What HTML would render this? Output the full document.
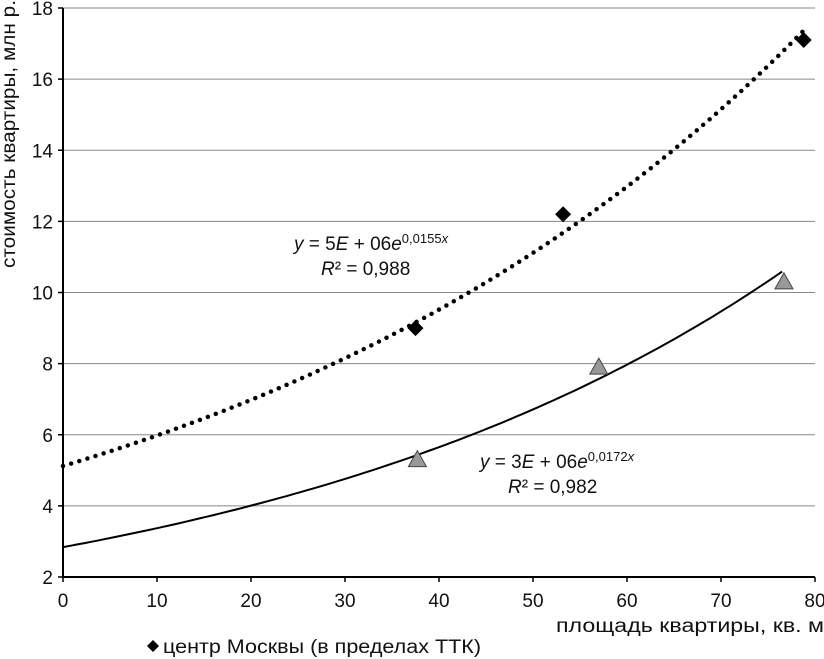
<!DOCTYPE html>
<html><head><meta charset="utf-8">
<style>
html,body{margin:0;padding:0;background:#fff;}
svg{display:block;font-family:"Liberation Sans","DejaVu Sans",sans-serif;}
.t{font-size:19px;fill:#111;}
</style></head>
<body>
<svg id="chart" width="824" height="659" viewBox="0 0 824 659" xmlns="http://www.w3.org/2000/svg" style="position:absolute;left:0;top:0"></svg>
<script>
const xTicks=[0,10,20,30,40,50,60,70,80];
const yTicks=[2,4,6,8,10,12,14,16,18];
const centerX=[37.5,53.2,78.8];
const centerY=[9.0,12.2,17.1];
const otherX=[37.7,57.0,76.7];
const otherY=[5.3,7.9,10.3];
const trendCenterA=[5.12,0.0155,0,79];
const trendOtherA=[2.84,0.0172,0,76.5];

const NS="http://www.w3.org/2000/svg";
const svg=document.getElementById('chart');
const X0=63,X1=815,Y0=577,Y1=8;
function sx(v){return X0+(v-0)/(80-0)*(X1-X0);}
function sy(v){return Y0-(v-2)/(18-2)*(Y0-Y1);}
function mk(t,a,p){const e=document.createElementNS(NS,t);for(const k in a)e.setAttribute(k,a[k]);(p||svg).appendChild(e);return e;}

const grid=mk('g',{});


yTicks.forEach(v=>{
  if(v>2){const l=mk('line',{x1:X0,x2:X1,y1:sy(v),y2:sy(v),stroke:'#888','stroke-width':1},grid);
  
  }
  const t=mk('text',{x:X0-10,y:sy(v)+7,'text-anchor':'end','class':'t'});
  t.textContent=v;
  
  
  mk('line',{x1:X0-5,x2:X0,y1:sy(v),y2:sy(v),stroke:'#000','stroke-width':1.5});
});
xTicks.forEach(v=>{
  const t=mk('text',{x:sx(v),y:Y0+30,'text-anchor':'middle','class':'t'});
  t.textContent=v;
  
  
  mk('line',{x1:sx(v),x2:sx(v),y1:Y0,y2:Y0+5,stroke:'#000','stroke-width':1.5});
});
const ax=mk('line',{x1:X0,x2:X0,y1:Y1,y2:Y0,stroke:'#000','stroke-width':2});


const axx=mk('line',{x1:X0,x2:X1,y1:Y0,y2:Y0,stroke:'#000','stroke-width':2});



function trend(p,attrs,name){
  let d='';
  for(let i=0;i<=100;i++){const x=p[2]+(p[3]-p[2])*i/100;const y=p[0]*Math.exp(p[1]*x);d+=(i?'L':'M')+sx(x).toFixed(1)+','+sy(y).toFixed(1);}
  const e=mk('path',Object.assign({d:d,fill:'none'},attrs));
  
  
}
trend(trendCenterA,{stroke:'#000','stroke-width':4.5,'stroke-dasharray':'0 8.5','stroke-linecap':'round'},'trendline-center');
trend(trendOtherA,{stroke:'#000','stroke-width':2},'trendline-other');

centerX.forEach((x,i)=>{
  const cx=sx(x),cy=sy(centerY[i]);
  const e=mk('polygon',{points:`${cx},${cy-8} ${cx+8},${cy} ${cx},${cy+8} ${cx-8},${cy}`,fill:'#000'});
  
  
});
otherX.forEach((x,i)=>{
  const cx=sx(x),cy=sy(otherY[i]);
  const e=mk('polygon',{points:`${cx},${cy-9} ${cx+9},${cy+7} ${cx-9},${cy+7}`,fill:'#999',stroke:'#444','stroke-width':1});
  
  
});
</script>
<svg style="position:absolute;left:0;top:0" width="824" height="659" font-family="Liberation Sans, sans-serif">
<text x="294" y="250" font-size="19" fill="#111"><tspan font-style="italic">y</tspan> = 5<tspan font-style="italic">E</tspan> + 06<tspan font-style="italic">e</tspan><tspan font-size="13" dy="-7">0,0155<tspan font-style="italic">x</tspan></tspan></text>
<text x="321" y="275" font-size="19" fill="#111"><tspan font-style="italic">R</tspan>² = 0,988</text>
<text x="480" y="468" font-size="19" fill="#111"><tspan font-style="italic">y</tspan> = 3<tspan font-style="italic">E</tspan> + 06<tspan font-style="italic">e</tspan><tspan font-size="13" dy="-7">0,0172<tspan font-style="italic">x</tspan></tspan></text>
<text x="508" y="493" font-size="19" fill="#111"><tspan font-style="italic">R</tspan>² = 0,982</text>
<text x="824" y="632" text-anchor="end" font-size="19" fill="#111" textLength="268" lengthAdjust="spacingAndGlyphs">площадь квартиры, кв. м</text>
<text transform="translate(15,268) rotate(-90)" font-size="19" fill="#111" textLength="268" lengthAdjust="spacingAndGlyphs">стоимость квартиры, млн р.</text>
<g>
<polygon points="153,640 159,646 153,652 147,646" fill="#000"/>
<text x="163" y="653" font-size="19" fill="#111" textLength="318" lengthAdjust="spacingAndGlyphs">центр Москвы (в пределах ТТК)</text>
</g>
</svg>
</body></html>
